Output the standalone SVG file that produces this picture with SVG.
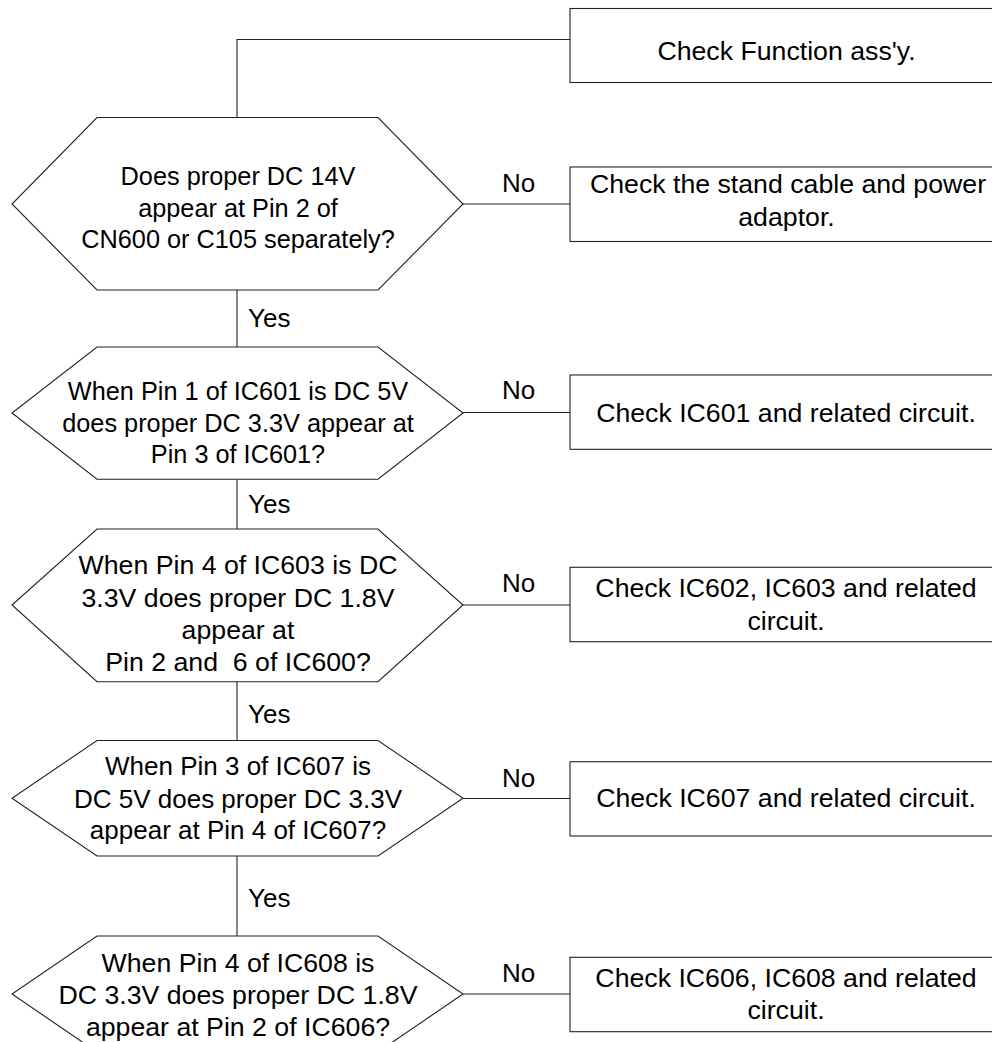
<svg xmlns="http://www.w3.org/2000/svg" width="992" height="1042" viewBox="0 0 992 1042">
<style>
.shape{fill:#fff;stroke:#222;stroke-width:1.1}
.conn{fill:none;stroke:#222;stroke-width:1.1}
text{font-family:"Liberation Sans",Arial,sans-serif;fill:#000;font-size:26.7px}
.c{text-anchor:middle}
.lbl{font-size:26px}
.pre{white-space:pre}
</style>
<rect width="992" height="1042" fill="#fff"/>
<g id="connectors">
<polyline class="conn" points="570,39.5 237,39.5 237,117.5"/>
<line class="conn" x1="237" y1="290" x2="237" y2="347"/>
<line class="conn" x1="237" y1="479.3" x2="237" y2="529"/>
<line class="conn" x1="237" y1="681.7" x2="237" y2="740.5"/>
<line class="conn" x1="237" y1="856" x2="237" y2="936"/>
<line class="conn" x1="463" y1="204" x2="570" y2="204"/>
<line class="conn" x1="463" y1="412.5" x2="570" y2="412.5"/>
<line class="conn" x1="463" y1="605" x2="570" y2="605"/>
<line class="conn" x1="463" y1="798.5" x2="570" y2="798.5"/>
<line class="conn" x1="463" y1="994" x2="570" y2="994"/>
<text class="lbl" x="502" y="191.7">No</text>
<text class="lbl" x="502" y="399.3">No</text>
<text class="lbl" x="502" y="591.7">No</text>
<text class="lbl" x="502" y="786.7">No</text>
<text class="lbl" x="502" y="981.7">No</text>
<text class="lbl" x="248" y="326.7">Yes</text>
<text class="lbl" x="248" y="513">Yes</text>
<text class="lbl" x="248" y="723.3">Yes</text>
<text class="lbl" x="248" y="906.7">Yes</text>
</g>
<g id="box1">
<rect class="shape" x="570" y="8.5" width="440" height="74"/>
<text class="c" x="786.5" y="60">Check Function ass'y.</text>
</g>
<g id="hex1">
<path class="shape" d="M97,117.5 L378,117.5 L463,204 L378,290 L97,290 L12,204 Z"/>
<text class="c" x="238" style="font-size:25.3px"><tspan x="238" y="185">Does proper DC 14V</tspan><tspan x="238" y="216.5">appear at Pin 2 of</tspan><tspan x="238" y="248">CN600 or C105 separately?</tspan></text>
</g>
<g id="box2">
<rect class="shape" x="570" y="167" width="440" height="74.5"/>
<text class="c"><tspan x="788" y="193.3">Check the stand cable and power</tspan><tspan x="786.5" y="225.5">adaptor.</tspan></text>
</g>
<g id="hex2">
<path class="shape" d="M97,347 L378,347 L463,413 L378,479.3 L97,479.3 L12,413 Z"/>
<text class="c" style="font-size:25.3px"><tspan x="238" y="400">When Pin 1 of IC601 is DC 5V</tspan><tspan x="238" y="431.7">does proper DC 3.3V appear at</tspan><tspan x="238" y="463.3">Pin 3 of IC601?</tspan></text>
</g>
<g id="box3">
<rect class="shape" x="570" y="375" width="440" height="74.3"/>
<text class="c" x="786" y="421.7">Check IC601 and related circuit.</text>
</g>
<g id="hex3">
<path class="shape" d="M97,529 L378,529 L463,605 L378,681.7 L97,681.7 L12,605 Z"/>
<text class="c pre"><tspan x="238" y="574.3">When Pin 4 of IC603 is DC</tspan><tspan x="238" y="606.5">3.3V does proper DC 1.8V</tspan><tspan x="238" y="638.5">appear at</tspan><tspan x="238" y="670.5">Pin 2 and  6 of IC600?</tspan></text>
</g>
<g id="box4">
<rect class="shape" x="570" y="567.3" width="440" height="74.4"/>
<text class="c"><tspan x="786" y="596.7">Check IC602, IC603 and related</tspan><tspan x="786" y="630">circuit.</tspan></text>
</g>
<g id="hex4">
<path class="shape" d="M97,740.5 L378,740.5 L463,798.3 L378,856 L97,856 L12,798.3 Z"/>
<text class="c" style="font-size:26px"><tspan x="238" y="775">When Pin 3 of IC607 is</tspan><tspan x="238" y="807.5">DC 5V does proper DC 3.3V</tspan><tspan x="238" y="839.3">appear at Pin 4 of IC607?</tspan></text>
</g>
<g id="box5">
<rect class="shape" x="570" y="761.7" width="440" height="74.3"/>
<text class="c" x="786" y="806.7">Check IC607 and related circuit.</text>
</g>
<g id="hex5">
<path class="shape" d="M97,936 L378,936 L463,994 L378,1052 L97,1052 L12,994 Z"/>
<text class="c"><tspan x="238" y="971.7">When Pin 4 of IC608 is</tspan><tspan x="238" y="1004">DC 3.3V does proper DC 1.8V</tspan><tspan x="238" y="1035.5">appear at Pin 2 of IC606?</tspan></text>
</g>
<g id="box6">
<rect class="shape" x="570" y="957.3" width="440" height="74.4"/>
<text class="c"><tspan x="786" y="986.7">Check IC606, IC608 and related</tspan><tspan x="786" y="1019.3">circuit.</tspan></text>
</g>
</svg>
